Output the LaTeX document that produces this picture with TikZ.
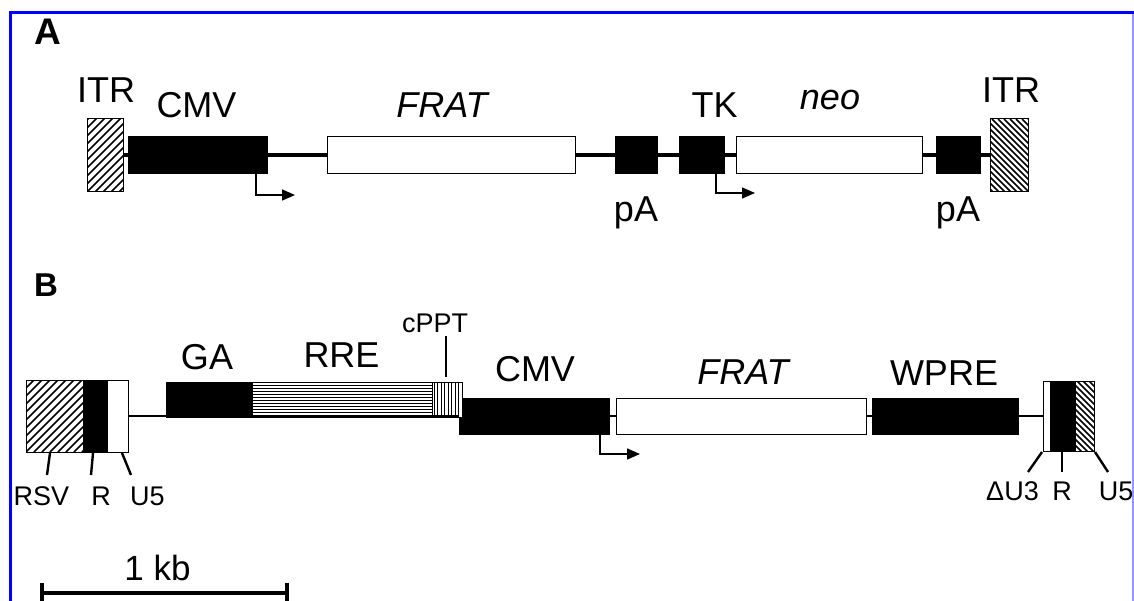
\documentclass[tikz,border=0pt]{standalone}
\usepackage{fontspec}
\setmainfont{Liberation Sans}
\usetikzlibrary{arrows.meta}
\definecolor{bordblue}{RGB}{0,0,255}
\definecolor{bordlight}{RGB}{150,150,255}
\begin{document}
\begin{tikzpicture}[x=1pt,y=-1pt,
  box/.style={draw=black, line width=1pt, inner sep=0pt, outer sep=0pt},
  blk/.style={box, fill=black},
  wht/.style={box, fill=white},
  hatchne/.style={box, fill=white, path picture={
      \foreach \k in {-120,-112,...,130}
        \draw[line width=1.7pt] ([xshift=\k pt]path picture bounding box.south west) -- ++(140pt,140pt);}},
  hatchnw/.style={box, fill=white, path picture={
      \foreach \k in {-130,-124,...,130}
        \draw[line width=1.5pt] ([xshift=\k pt]path picture bounding box.north west) -- ++(140pt,-140pt);}},
  hstripe/.style={box, fill=white, path picture={
      \foreach \k in {1.5,4.5,...,36}
        \draw[line width=1pt] ([yshift=\k pt]path picture bounding box.south west) -- ++(300pt,0pt);}},
  vstripe/.style={box, fill=white, path picture={
      \foreach \k in {2,5.5,...,32}
        \draw[line width=1pt] ([xshift=\k pt]path picture bounding box.south west) -- ++(0pt,60pt);}},
  bba/.style={line width=4pt},
  bbb/.style={line width=2.5pt},
  prom/.style={line width=1.4pt, -{Triangle[length=13pt,width=11pt]}},
  tick/.style={line width=2.4pt},
  lbl/.style={inner sep=0pt, anchor=base, font=\fontsize{36}{40}\selectfont},
  slbl/.style={inner sep=0pt, anchor=base, font=\fontsize{27}{30}\selectfont},
  panel/.style={inner sep=0pt, anchor=base west, font=\bfseries\fontsize{37}{40}\selectfont}
]
\useasboundingbox (0,0) rectangle (1134,601);
\clip (0,0) rectangle (1134,601);
\fill[white] (0,0) rectangle (1134,601);

% border
\draw[bordblue, line width=3pt] (10.5,610) -- (10.5,12.5) -- (1134,12.5);
\draw[bordlight, line width=1.5pt] (1133.2,14) -- (1133.2,610);

% ---------- Panel A ----------
\node[panel] (la) at (34,45) {A};

\node[hatchne, minimum width=36, minimum height=73] (itrL) at (105,155.5) {};
\node[blk, minimum width=139, minimum height=37] (cmvA) at (197.5,155.5) {};
\node[wht, minimum width=248, minimum height=37] (fratA) at (451,155.5) {};
\node[blk, minimum width=42, minimum height=37] (paA1) at (636,155.5) {};
\node[blk, minimum width=45, minimum height=37] (tk) at (701.5,155.5) {};
\node[wht, minimum width=186, minimum height=37] (neo) at (829,155.5) {};
\node[blk, minimum width=44, minimum height=37] (paA2) at (958,155.5) {};
\node[hatchnw, minimum width=38, minimum height=73] (itrR) at (1009,155.5) {};

\draw[bba] (itrL.east) -- (cmvA.west);
\draw[bba] (cmvA.east) -- (fratA.west);
\draw[bba] (fratA.east) -- (paA1.west);
\draw[bba] (paA1.east) -- (tk.west);
\draw[bba] (tk.east) -- (neo.west);
\draw[bba] (neo.east) -- (paA2.west);
\draw[bba] (paA2.east) -- (itrR.west);

\coordinate (arA1) at (295,195);
\coordinate (arA2) at (755,193);
\draw[prom] ([xshift=-11pt]cmvA.south east) |- (arA1);
\draw[prom] ([xshift=-8pt]tk.south east) |- (arA2);

\node[lbl] (titrL) at (106,103) {ITR};
\node[lbl] (tcmvA) at (196.5,118) {CMV};
\node[lbl] (tfratA) at (442,118) {\itshape FRAT};
\node[lbl] (ttk) at (714.5,118) {TK};
\node[lbl] (tneo) at (830,110) {\itshape neo};
\node[lbl] (titrR) at (1011,103) {ITR};
\node[lbl] (tpa1) at (636,222) {pA};
\node[lbl] (tpa2) at (958,222) {pA};

% ---------- Panel B ----------
\node[panel, font=\bfseries\fontsize{33}{36}\selectfont] (lb) at (34,297) {B};

\node[hatchne, minimum width=57, minimum height=72] (ltrH) at (54.5,416) {};
\node[blk, minimum width=24, minimum height=72] (ltrB) at (95,416) {};
\node[wht, minimum width=21, minimum height=72] (ltrW) at (117.5,416) {};

\node[blk, minimum width=86, minimum height=35] (ga) at (209,399.5) {};
\node[hstripe, minimum width=180, minimum height=35] (rre) at (342,399.5) {};
\node[blk, minimum width=150, minimum height=36] (cmvB) at (534,416) {};
\node[vstripe, minimum width=30, minimum height=35] (cppt) at (447,399.5) {};
\node[wht, minimum width=250, minimum height=36] (fratB) at (741,416) {};
\node[blk, minimum width=146, minimum height=36] (wpre) at (945,416) {};

\node[wht, minimum width=7, minimum height=70] (rW) at (1046.5,416) {};
\node[blk, minimum width=25, minimum height=70] (rB) at (1062.5,416) {};
\node[hatchnw, minimum width=19, minimum height=70] (rH) at (1084.5,416) {};

\draw[bbb] (ltrW.east) -- (cmvB.west);
\draw[bbb] (cmvB.east) -- (fratB.west);
\draw[bbb] (fratB.east) -- (wpre.west);
\draw[bbb] (wpre.east) -- (rW.west);

\coordinate (arB) at (640,454);
\draw[prom] ([xshift=-9pt]cmvB.south east) |- (arB);

\node[lbl] (tga) at (207,369) {GA};
\node[lbl] (trre) at (341.5,367) {RRE};
\node[slbl] (tcppt) at (435,332) {cPPT};
\node[lbl] (tcmvB) at (535,381) {CMV};
\node[lbl] (tfratB) at (743,384) {\itshape FRAT};
\node[lbl] (twpre) at (944,385) {WPRE};

\coordinate (cpA) at (446,336);
\coordinate (cpB) at (446,377);
\draw[line width=1.3pt] (cpA) -- (cpB);

% LTR labels
\node[slbl] (trsv) at (41.5,505) {RSV};
\node[slbl] (tr1) at (101,505) {R};
\node[slbl] (tu51) at (147.5,505) {U5};
\node[slbl] (tdu3) at (1012.5,500) {ΔU3};
\node[slbl] (tr2) at (1062,500) {R};
\node[slbl] (tu52) at (1116,500) {U5};

\coordinate (k1a) at (50,453); \coordinate (k1b) at (47,475);
\coordinate (k2a) at (93,453); \coordinate (k2b) at (91,475);
\coordinate (k3a) at (122,453); \coordinate (k3b) at (131,475);
\coordinate (k4a) at (1042,452); \coordinate (k4b) at (1028,472);
\coordinate (k5a) at (1062,452); \coordinate (k5b) at (1062,472);
\coordinate (k6a) at (1095,452); \coordinate (k6b) at (1108,472);
\draw[tick] (k1a) -- (k1b);
\draw[tick] (k2a) -- (k2b);
\draw[tick] (k3a) -- (k3b);
\draw[tick] (k4a) -- (k4b);
\draw[tick] (k5a) -- (k5b);
\draw[tick] (k6a) -- (k6b);

% scale bar
\node[lbl, font=\fontsize{35}{38}\selectfont] (tkb) at (157.5,580) {1 kb};
\coordinate (sbL) at (42,593);
\coordinate (sbR) at (287,593);
\coordinate (sbLt) at (42,583);
\coordinate (sbRt) at (287,583);
\coordinate (sbLb) at (42,610);
\coordinate (sbRb) at (287,610);
\draw[line width=4pt] (sbL) -- (sbR);
\draw[line width=4pt] (sbLt) -- (sbLb);
\draw[line width=4pt] (sbRt) -- (sbRb);
\end{tikzpicture}
\end{document}
